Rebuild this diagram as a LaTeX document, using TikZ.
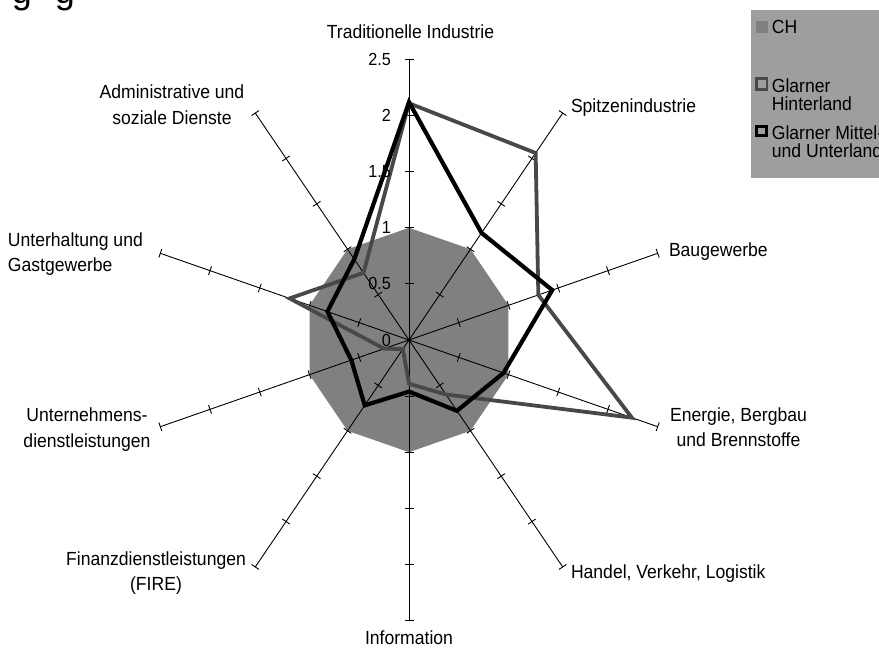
\documentclass[tikz,border=0pt]{standalone}
\usepackage{fontspec}
\setmainfont{Liberation Sans}
\usetikzlibrary{calc}
\definecolor{chfill}{RGB}{128,128,128}
\definecolor{hintcol}{RGB}{72,72,72}
\definecolor{legbg}{RGB}{158,158,158}
\begin{document}
\begin{tikzpicture}[x=1pt,y=1pt,
  cat/.style={font=\fontsize{19}{25.5}\selectfont, xscale=0.925, inner sep=0pt, outer sep=0pt, align=center},
  catl/.style={cat, align=left},
  ticklab/.style={font=\fontsize{17.5}{20}\selectfont, xscale=0.925, inner sep=0pt, anchor=east},
  leg/.style={font=\fontsize{19}{17.7}\selectfont, xscale=0.925, inner sep=0pt, align=left, anchor=north west},
  axisline/.style={line width=0.9pt, black},
  tickmark/.style={line width=0.9pt, black},
  hintline/.style={line width=3.8pt, hintcol, line join=miter},
  mittline/.style={line width=4.2pt, black, line join=miter},
  legsq/.style={line width=2.8pt}
]
\useasboundingbox (0,0) rectangle (879,654);
% partly visible title
\node[font=\fontsize{36}{40}\selectfont, inner sep=0pt, anchor=base] (t1) at (22,650) {g};
\node[font=\fontsize{36}{40}\selectfont, inner sep=0pt, anchor=base] (t2) at (65,650) {g};

\begin{scope}[shift={(409,314)}, x={(104.6pt,0pt)}, y={(0pt,112.2pt)}]
  \coordinate (O) at (0,0);
  \fill[chfill] (90:1) -- (54:1) -- (18:1) -- (-18:1) -- (-54:1) -- (-90:1) -- (-126:1) -- (-162:1) -- (162:1) -- (126:1) -- cycle;
  \foreach \a [count=\i] in {90,54,18,-18,-54,-90,-126,-162,162,126} {
    \coordinate (ax\i) at (\a:2.5);
    \draw[axisline] (O) -- (ax\i);
    \foreach \v in {0.5,1,1.5,2,2.5} {
      \draw[tickmark] ($(\a:\v)!4.5pt!90:(O)$) -- ($(\a:\v)!4.5pt!-90:(O)$);
    }
  }
  \foreach \a/\v [count=\i] in {90/2.11,54/2.06,18/1.3,-18/2.24,-54/0.6,-90/0.39,-126/0.1,-162/0.25,162/1.2,126/0.74}
    \coordinate (h\i) at (\a:\v);
  \foreach \a/\v [count=\i] in {90/2.12,54/1.18,18/1.44,-18/0.95,-54/0.78,-90/0.46,-126/0.72,-162/0.58,162/0.82,126/0.89}
    \coordinate (m\i) at (\a:\v);
  \draw[hintline] (h1) -- (h2) -- (h3) -- (h4) -- (h5) -- (h6) -- (h7) -- (h8) -- (h9) -- (h10) -- cycle;
  \draw[mittline] (m1) -- (m2) -- (m3) -- (m4) -- (m5) -- (m6) -- (m7) -- (m8) -- (m9) -- (m10) -- cycle;
\end{scope}

% value labels
\foreach \v/\t [count=\i] in {0/0,0.5/0.5,1/1,1.5/1.5,2/2,2.5/2.5}
  \node[ticklab] (tl\i) at (391,{314+112.2*\v}) {\t};

% category labels
\node[cat, anchor=north] (trad) at (410.5,629.3) {Traditionelle Industrie};
\node[cat, anchor=north west] (spitz) at (571,554.9) {Spitzenindustrie};
\node[cat, anchor=north west] (bau) at (669,410.9) {Baugewerbe};
\node[cat, anchor=north] (energie) at (738.5,246.5) {Energie, Bergbau\\und Brennstoffe};
\node[cat, anchor=north west] (handel) at (571,89.2) {Handel, Verkehr, Logistik};
\node[cat, anchor=north] (info) at (409,23) {Information};
\node[cat, anchor=north] (finanz) at (156,102.5) {Finanzdienstleistungen\\(FIRE)};
\node[cat, anchor=north] (untern) at (87,246.2) {Unternehmens-\\dienstleistungen};
\node[catl, anchor=north west] (unterh) at (8,421.5) {Unterhaltung und\\Gastgewerbe};
\node[cat, anchor=north] (admin) at (172,569.2) {Administrative und\\soziale Dienste};

% legend
\fill[legbg] (750.7,476) rectangle (890,644);
\fill[chfill] (756,621.3) rectangle (768,633.3);
\draw[legsq, hintcol] (756.4,564.7) rectangle (766.9,575.3);
\draw[legsq, black] (756.4,518.1) rectangle (766.6,527.6);
\node[leg] (lch) at (771.7,633.6) {CH};
\node[leg] (lhint) at (771.7,575) {Glarner\\Hinterland};
\node[leg] (lmitt) at (771.7,528.3) {Glarner Mittel-\\und Unterland};
\end{tikzpicture}
\end{document}
